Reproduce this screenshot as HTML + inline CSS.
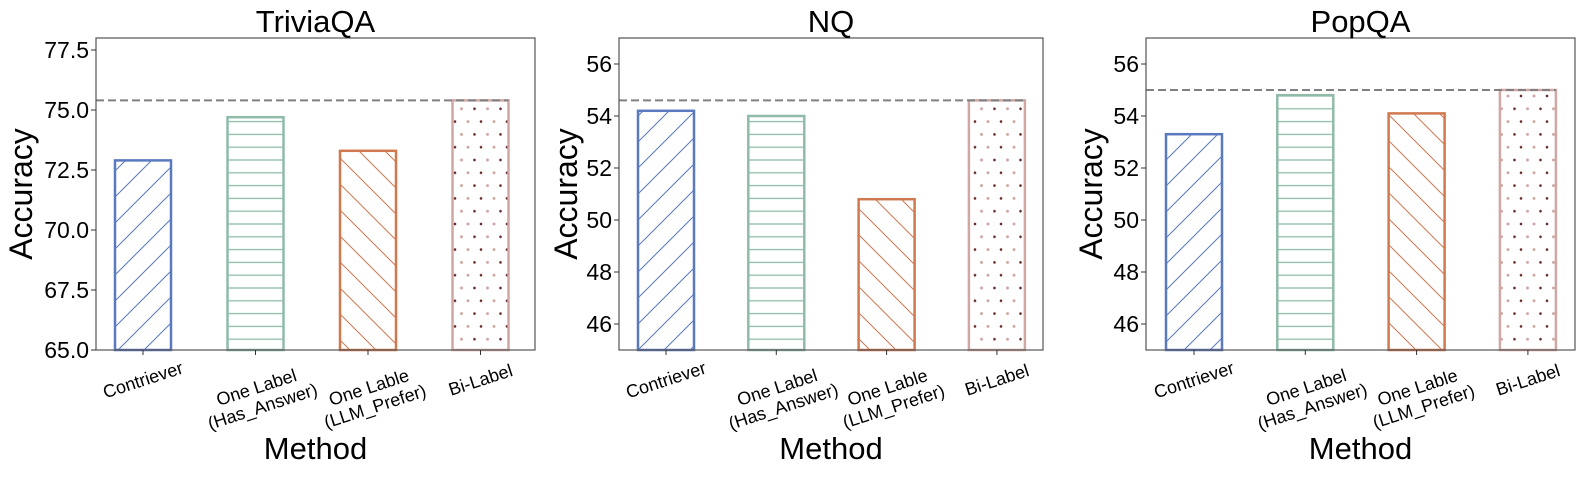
<!DOCTYPE html>
<html><head><meta charset="utf-8">
<style>
html,body{margin:0;padding:0;background:#fff;}
svg{display:block;font-family:"Liberation Sans",Arial,sans-serif;}
</style></head>
<body>
<svg id="fig" width="1594" height="478" viewBox="0 0 1594 478">
<defs>
<pattern id="hatch-blue" patternUnits="userSpaceOnUse" width="26" height="26"><path d="M-2,2 L2,-2 M0,26 L26,0 M24,28 L28,24" stroke="#5b79be" stroke-width="1"/></pattern>
<pattern id="hatch-green" patternUnits="userSpaceOnUse" width="13" height="12.8"><path d="M0,6.4 L13,6.4" stroke="#8fbba8" stroke-width="1.3"/></pattern>
<pattern id="hatch-orange" patternUnits="userSpaceOnUse" width="26" height="26"><path d="M-2,24 L2,28 M0,0 L26,26 M24,-2 L28,2" stroke="#d0794f" stroke-width="1"/></pattern>
<pattern id="hatch-pink" patternUnits="userSpaceOnUse" width="26" height="25.6"><circle cx="6.5" cy="6.4" r="1.3" fill="#6a2a2a"/><circle cx="19.5" cy="6.4" r="1.5" fill="#cfa8a4"/><circle cx="0" cy="19.2" r="1.5" fill="#cfa8a4"/><circle cx="13" cy="19.2" r="1.3" fill="#6a2a2a"/><circle cx="26" cy="19.2" r="1.5" fill="#cfa8a4"/></pattern>
</defs>
</svg>
<script>
const categories = ["Contriever", "One Label\n(Has_Answer)", "One Lable\n(LLM_Prefer)", "Bi-Label"];
const titles = ["TriviaQA", "NQ", "PopQA"];
const triviaValues = [72.9, 74.7, 73.3, 75.4];
const nqValues = [54.2, 54.0, 50.8, 54.6];
const popqaValues = [53.3, 54.8, 54.1, 55.0];
const triviaTicks = ["65.0", "67.5", "70.0", "72.5", "75.0", "77.5"];
const nqTicks = ["46", "48", "50", "52", "54", "56"];
const popqaTicks = ["46", "48", "50", "52", "54", "56"];
const triviaRange = [65, 78];
const nqRange = [45, 57];
const popqaRange = [45, 57];

const NS = "http://www.w3.org/2000/svg";
const svg = document.getElementById("fig");
const strokes = ["#5b79be", "#8fbba8", "#d0794f", "#cfa8a4"];
const fills = ["url(#hatch-blue)", "url(#hatch-green)", "url(#hatch-orange)", "url(#hatch-pink)"];
const panels = [
  {key:"triviaqa", values:triviaValues, ticks:triviaTicks, range:triviaRange, left:96, right:535, c0:143, step:112.5, ylabX:21},
  {key:"nq", values:nqValues, ticks:nqTicks, range:nqRange, left:619, right:1043, c0:666, step:110.3, ylabX:566},
  {key:"popqa", values:popqaValues, ticks:popqaTicks, range:popqaRange, left:1146, right:1575, c0:1194, step:111.3, ylabX:1091}
];
const TOP = 38, BOT = 350, BARW = 56;
function mk(tag, attrs, parent){const e=document.createElementNS(NS,tag);for(const k in attrs)e.setAttribute(k,attrs[k]);(parent||svg).appendChild(e);return e;}

panels.forEach((p, pi) => {
  const g = mk("g", {});
  
  
  const y = v => BOT - (v - p.range[0]) / (p.range[1] - p.range[0]) * (BOT - TOP);
  const x = i => p.c0 + i * p.step;
  p.values.forEach((v, i) => {
    mk("rect", {x:x(i)-BARW/2, y:y(v), width:BARW, height:BOT-y(v), fill:"#fff", stroke:"none"}, g);
    const r2 = mk("rect", {x:x(i)-BARW/2, y:y(v), width:BARW, height:BOT-y(v), fill:fills[i], stroke:strokes[i], "stroke-width":2.5}, g);
    
    
  });
  const best = Math.max(...p.values);
  const dl = mk("line", {x1:p.left, x2:x(3)+BARW/2, y1:y(best), y2:y(best), stroke:"#808080", "stroke-width":2, "stroke-dasharray":"8,4"}, g);
  
  
  const fr = mk("rect", {x:p.left, y:TOP, width:p.right-p.left, height:BOT-TOP, fill:"none", stroke:"#555", "stroke-width":1.2}, g);
  
  
  p.ticks.forEach(t => {
    const yy = y(parseFloat(t));
    mk("line", {x1:p.left-5, x2:p.left, y1:yy, y2:yy, stroke:"#333", "stroke-width":1}, g);
    const tx = mk("text", {x:p.left-7, y:yy+8, "text-anchor":"end", "font-size":23, fill:"#000"}, g);
    tx.textContent = t;
    
    
  });
  categories.forEach((c, i) => {
    mk("line", {x1:x(i), x2:x(i), y1:BOT, y2:BOT+5, stroke:"#333", "stroke-width":1}, g);
    const lines = c.split("\n");
    const cx = x(i) + (lines.length > 1 ? 4 : 0), cy = lines.length > 1 ? 397 : 380;
    const tx = mk("text", {"text-anchor":"middle", "font-size":18, fill:"#000", transform:`rotate(-18 ${cx} ${cy})`}, g);
    
    
    lines.forEach((ln, li) => {
      const ts = mk("tspan", {x:cx, y:cy + 6 - (lines.length-1)*10 + li*20}, tx);
      ts.textContent = ln;
    });
  });
  const ti = mk("text", {x:(p.left+p.right)/2, y:32, "text-anchor":"middle", "font-size":31, fill:"#000"}, g);
  ti.textContent = titles[pi];
  
  
  const xl = mk("text", {x:(p.left+p.right)/2, y:459, "text-anchor":"middle", "font-size":31, fill:"#000"}, g);
  xl.textContent = "Method";
  
  
  const cyL = (TOP+BOT)/2;
  const yl = mk("text", {x:p.ylabX, y:cyL + 11, "text-anchor":"middle", "font-size":32, fill:"#000", transform:`rotate(-90 ${p.ylabX} ${cyL})`}, g);
  yl.setAttribute('x', p.ylabX);
  yl.textContent = "Accuracy";
  
  
});
</script>
</body></html>
